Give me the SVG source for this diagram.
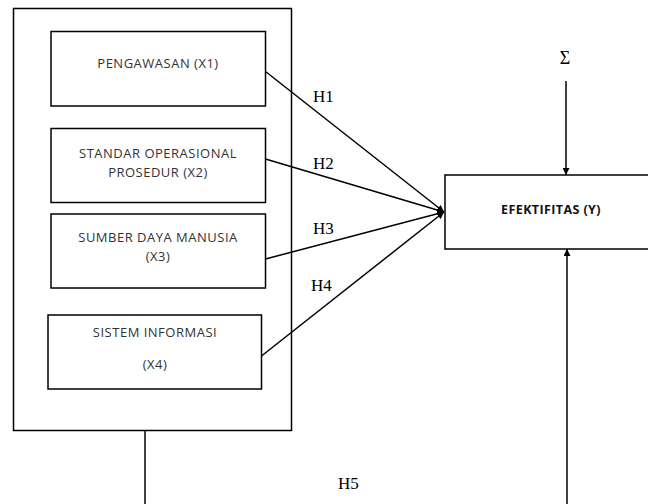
<svg xmlns="http://www.w3.org/2000/svg" width="648" height="504" viewBox="0 0 648 504">
<defs>
<marker id="arr" viewBox="0 0 10 10" refX="10" refY="5" markerWidth="7" markerHeight="7" markerUnits="userSpaceOnUse" orient="auto">
<path d="M0,0 L10,5 L0,10 z" fill="#000"/>
</marker>
</defs>
<style>
.box{fill:#fff;stroke:#000;stroke-width:1.5}
.lbl{font-family:"Open Sans","Liberation Sans",sans-serif;font-size:13px;letter-spacing:0.5px;fill:#333;text-anchor:middle}
.bold{font-weight:bold;fill:#111;font-size:12.5px;letter-spacing:0.4px}
.h{font-family:"Liberation Serif","DejaVu Serif",serif;font-size:17px;fill:#000}
.ln{stroke:#000;stroke-width:1.5;fill:none}
</style>
<rect width="648" height="504" fill="#fff"/>
<g id="outer"><rect class="box" x="13.5" y="8.5" width="278" height="422"/></g>
<g id="x1"><rect class="box" x="51" y="31.5" width="214.5" height="74.5"/><text class="lbl" x="158" y="68">PENGAWASAN (X1)</text></g>
<g id="x2"><rect class="box" x="51" y="128.5" width="214.5" height="74"/><text class="lbl" x="158" y="158">STANDAR OPERASIONAL</text><text class="lbl" x="158" y="177">PROSEDUR (X2)</text></g>
<g id="x3"><rect class="box" x="51" y="214" width="214.5" height="74"/><text class="lbl" x="158" y="242">SUMBER DAYA MANUSIA</text><text class="lbl" x="158" y="261">(X3)</text></g>
<g id="x4"><rect class="box" x="48" y="315" width="213.5" height="74"/><text class="lbl" x="155" y="337">SISTEM INFORMASI</text><text class="lbl" x="155" y="369">(X4)</text></g>
<g id="y"><rect class="box" x="445" y="175" width="210" height="74"/><text class="lbl bold" x="551" y="214">EFEKTIFITAS (Y)</text></g>
<g id="sigma"><text x="565" y="64" font-family="Liberation Serif,DejaVu Serif,serif" font-size="18" text-anchor="middle" fill="#000">Σ</text></g>
<g id="connectors">
<line class="ln" x1="265.5" y1="71.5" x2="444" y2="212" marker-end="url(#arr)"/>
<line class="ln" x1="265.5" y1="159" x2="444" y2="212" marker-end="url(#arr)"/>
<line class="ln" x1="265.5" y1="259" x2="444" y2="212" marker-end="url(#arr)"/>
<line class="ln" x1="261.5" y1="356" x2="444" y2="212" marker-end="url(#arr)"/>
<line class="ln" x1="566" y1="81" x2="566" y2="175" marker-end="url(#arr)"/>
<line class="ln" x1="567" y1="504" x2="567" y2="249" marker-end="url(#arr)"/>
<line class="ln" x1="145" y1="430" x2="145" y2="504"/>
</g>
<g id="labels">
<text class="h" x="313" y="102">H1</text>
<text class="h" x="313" y="169">H2</text>
<text class="h" x="313" y="234">H3</text>
<text class="h" x="311" y="291">H4</text>
<text class="h" x="338" y="489">H5</text>
</g>
</svg>
